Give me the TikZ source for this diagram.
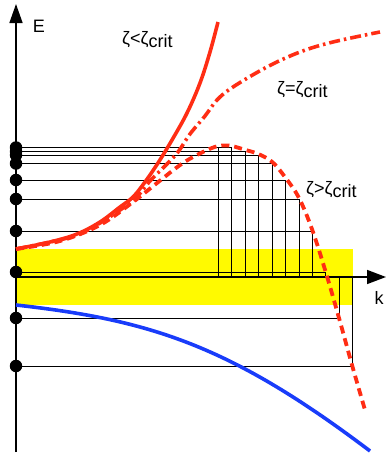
\documentclass[tikz,border=0pt]{standalone}
\usepackage{fontspec}
\setmainfont{Liberation Sans}
\usetikzlibrary{arrows.meta}
\definecolor{cred}{RGB}{255,45,20}
\definecolor{cblue}{RGB}{25,60,250}
\definecolor{cyel}{RGB}{255,250,0}
\begin{document}
\begin{tikzpicture}[x=1pt,y=-1pt,
  thinline/.style={black,line width=0.9pt},
  axisline/.style={black,line width=1.5pt},
  level/.style={circle,fill=black,inner sep=0pt,minimum size=12.5pt},
  lbl/.style={font=\fontsize{18}{20}\selectfont,inner sep=0pt},
  curveA/.style={cred,line width=3.6pt},
  curveB/.style={cred,line width=3.6pt,dash pattern=on 11pt off 4pt on 2.5pt off 4pt},
  curveC/.style={cred,line width=3.8pt,dash pattern=on 8pt off 5pt},
  curveD/.style={cblue,line width=3.6pt}]
\useasboundingbox (0,0) rectangle (386,453);
% yellow band
\fill[cyel] (16,249) rectangle (353,305);
% axis points for k
\coordinate (o) at (16,277);
\foreach \i/\x in {1/218,2/231.7,3/245.7,4/258.3,5/272.3,6/285.7,7/299,8/312.3,9/325.7,10/339,11/352.3}
  \coordinate (k\i) at (\x,277);
% energy levels (dots)
\foreach \i/\y in {1/147.5,3/151.5,4/155,5/163.5,6/180,7/199,8/231,9/272,10/318,11/366}
  \node[level] (d\i) at (16,\y) {};
% lines
\foreach \i in {3,...,11}
  \draw[thinline] (d\i.center) -| (k\i);
\draw[thinline] (d1.center) -| (k2);
\draw[thinline] (d1.center) -| (k1);
% axes
\coordinate (ybot) at (16,452);
\coordinate (ytop) at (16,4);
\coordinate (xend) at (386,277);
\draw[axisline,-{Triangle[length=19pt,width=13pt]}] (ybot) -- (ytop);
\draw[axisline,-{Triangle[length=19pt,width=14pt]}] (o) -- (xend);
% curves
\draw[curveA] plot[smooth,tension=0.6] coordinates {(16,249) (50,242) (77,234) (100,222) (120,207) (133,197) (145,182) (158,163) (172,140) (187,113) (200,83) (210,52) (218,22)};
\draw[curveB] plot[smooth,tension=0.6] coordinates {(16,249) (50,242) (77,235) (100,223) (120,210) (135,199) (150,181) (165,166) (178,152) (190,134) (205,116) (217,100) (233,87) (267,67) (300,52) (333,42) (380,32)};
\draw[curveC] plot[smooth,tension=0.6] coordinates {(16,249) (60,241) (100,225) (133,202) (157,183) (183,163) (205,151) (218,146) (225,145.5) (232,146) (245.7,150) (258.3,154) (272.3,162) (285.7,178) (299,198) (312.3,230) (325.7,272) (339,318) (352.3,366) (365,410)};
\coordinate (bstart) at (16,305);
\coordinate (bend) at (370,451);
\draw[curveD] (bstart) .. controls (150,320) and (230,345) .. (bend);
% labels
\node[lbl] (lE) at (39,26) {E};
\node[lbl] (lk) at (379,298) {k};
\node[lbl,anchor=west] (l1) at (122,40) {ζ<ζ\raisebox{-0.3ex}{crit}};
\node[lbl,anchor=west] (l2) at (277,90) {ζ=ζ\raisebox{-0.3ex}{crit}};
\node[lbl,anchor=west] (l3) at (306,190) {ζ>ζ\raisebox{-0.3ex}{crit}};
\end{tikzpicture}
\end{document}
